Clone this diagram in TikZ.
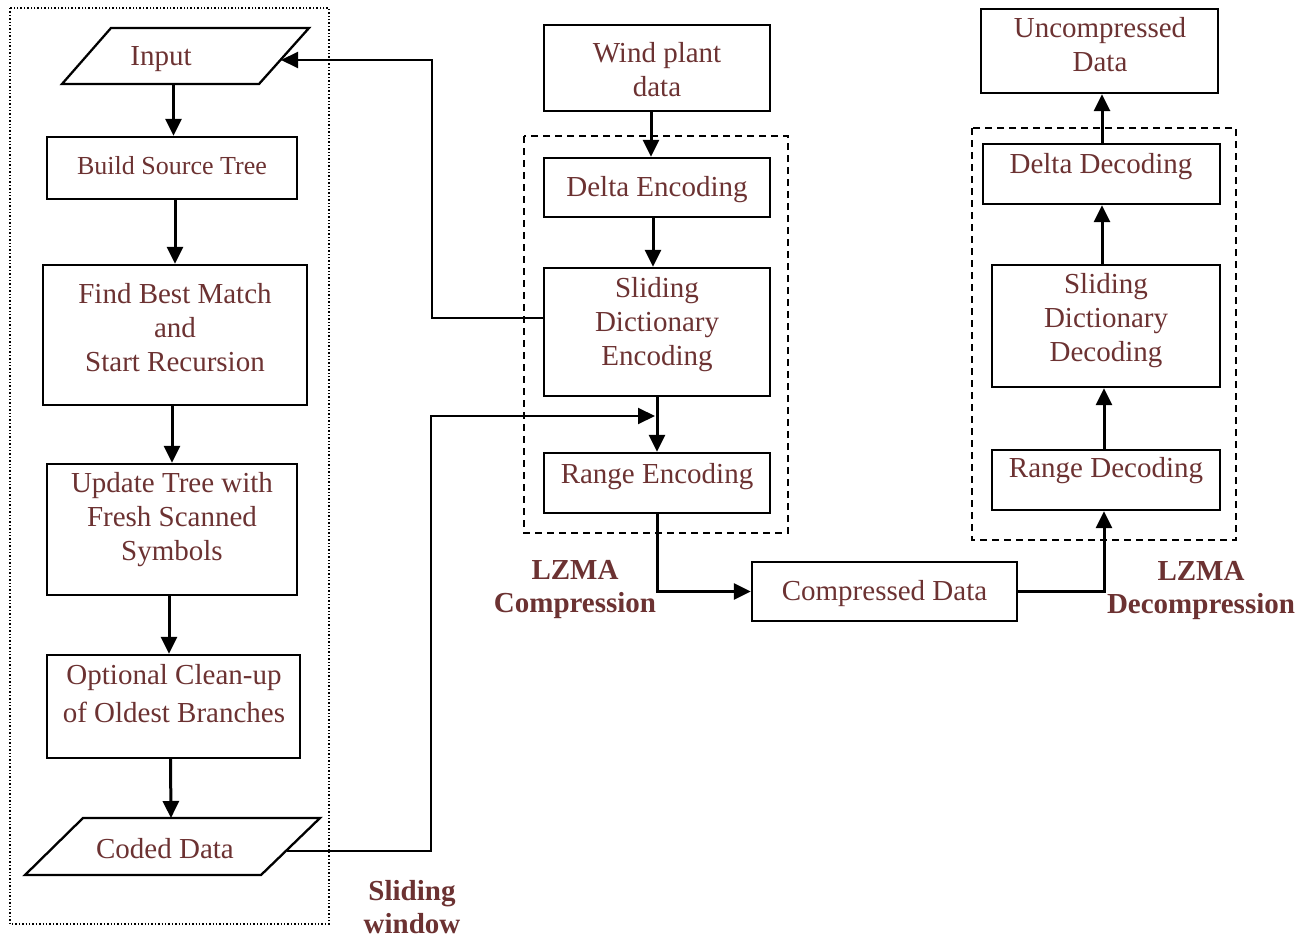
\documentclass[tikz,border=0pt]{standalone}
\usepackage{fontspec}
\setmainfont{Liberation Serif}
\usetikzlibrary{arrows.meta}
\definecolor{txtc}{RGB}{108,50,50}
\begin{document}
\begin{tikzpicture}[x=1pt,y=-1pt,
  box/.style={draw, line width=2.3pt, inner sep=0pt},
  tip/.style={-{Triangle[length=17pt,width=16pt]}},
  arr/.style={tip, line width=3pt},
  conn/.style={tip, line width=2pt},
  txt/.style={text=txtc, font=\fontsize{29}{34}\selectfont, align=center, inner sep=0pt},
  stxt/.style={text=txtc, font=\fontsize{26}{31}\selectfont, align=center, inner sep=0pt},
  btxt/.style={text=txtc, font=\fontsize{29}{33}\selectfont\bfseries, align=center, inner sep=0pt},
  grp/.style={dash pattern=on 7pt off 5pt, line width=2pt},
  win/.style={dotted, line width=1.4pt}]
\useasboundingbox (0,0) rectangle (1308,939);
% group frames
\draw[win] (10,8) rectangle (329,924);
\draw[grp] (524,136) rectangle (788,533);
\draw[grp] (972,128) rectangle (1236,540);
% left column
\draw[line width=2.3pt] (111,28) -- (309,28) -- (259,84) -- (62,84) -- cycle;
\node[txt] (inp) at (161,59) {Input};
\coordinate (inR) at (281,60);
\coordinate (inB) at (173.5,84);
\node[box, minimum width=250pt, minimum height=62pt] (bst) at (172,168) {};
\node[stxt] (bstt) at (172,166) {Build Source Tree};
\node[box, minimum width=264pt, minimum height=140pt] (fbm) at (175,335) {};
\node[txt] (fbmt) at (175,328) {Find Best Match\\and\\Start Recursion};
\node[box, minimum width=250pt, minimum height=131pt] (upd) at (172,529.5) {};
\node[txt] (updt) at (172,520) {Update Tree with\\Fresh Scanned\\Symbols};
\node[box, minimum width=253pt, minimum height=103pt] (opt) at (173.5,706.5) {};
\node[txt, font=\fontsize{29}{38}\selectfont] (optt) at (174,694) {Optional Clean-up\\of Oldest Branches};
\draw[line width=2.3pt] (83,818) -- (320,818) -- (261,875) -- (25,875) -- cycle;
\node[txt] (cod) at (165,849) {Coded Data};
\coordinate (cdT) at (171,818);
\coordinate (cdR) at (287,851);
% compression column
\node[box, minimum width=226pt, minimum height=86pt] (wpd) at (657,68) {};
\node[txt] (wpdt) at (657,70) {Wind plant\\data};
\node[box, minimum width=226pt, minimum height=59pt] (den) at (657,187.5) {};
\node[txt] (dent) at (657,190) {Delta Encoding};
\node[box, minimum width=226pt, minimum height=128pt] (sde) at (657,332) {};
\node[txt] (sdet) at (657,324.5) {Sliding\\Dictionary\\Encoding};
\node[box, minimum width=226pt, minimum height=60pt] (ren) at (657,483) {};
\node[txt] (rent) at (657,476.5) {Range Encoding};
\node[box, minimum width=265pt, minimum height=59pt] (cmp) at (884.5,591.5) {};
\node[txt] (cmpt) at (884.5,594) {Compressed Data};
% decompression column
\node[box, minimum width=228pt, minimum height=60pt] (rde) at (1106,480) {};
\node[txt] (rdet) at (1106,471) {Range Decoding};
\node[box, minimum width=228pt, minimum height=122pt] (sdd) at (1106,326) {};
\node[txt] (sddt) at (1106,320.5) {Sliding\\Dictionary\\Decoding};
\node[box, minimum width=237pt, minimum height=60pt] (ddc) at (1101.5,174) {};
\node[txt] (ddct) at (1101,167) {Delta Decoding};
\node[box, minimum width=237pt, minimum height=84pt] (unc) at (1099.5,51) {};
\node[txt] (unct) at (1100,45) {Uncompressed\\Data};
% labels
\node[btxt] (lzc) at (575,589.5) {LZMA\\Compression};
\node[btxt] (lzd) at (1201,590.5) {LZMA\\Decompression};
\node[btxt] (slw) at (412,907.5) {Sliding\\window};
% connectors
\draw[arr] (inB) -- (inB |- bst.north);
\draw[arr] (fbm.north |- bst.south) -- (fbm.north);
\draw[arr] (upd.north |- fbm.south) -- (upd.north);
\draw[arr] ([xshift=-3pt]upd.south) -- ([xshift=-3pt]upd.south |- opt.north);
\draw[arr] ([xshift=-3pt]opt.south) -- (cdT);
\draw[arr] ([xshift=-6pt]wpd.south) -- ([xshift=-6pt]den.north);
\draw[arr] ([xshift=-4pt]den.south) -- ([xshift=-4pt]sde.north);
\draw[arr] (sde.south) -- (ren.north);
\coordinate (mrg) at (655,416);
\draw[arr] (ren.south) |- (cmp.west);
\draw[arr] (cmp.east) -| ([xshift=-2pt]rde.south);
\draw[arr] ([xshift=-2pt]rde.north) -- ([xshift=-2pt]sdd.south);
\draw[arr] ([xshift=-4pt]sdd.north) -- ([xshift=-4pt]sdd.north |- ddc.south);
\draw[arr] ([xshift=0.5pt]ddc.north) -- ([xshift=0.5pt]ddc.north |- unc.south);
\draw[conn] ([yshift=14pt]sde.west) -- ++(-111,0) |- (inR);
\draw[conn] (cdR) -- (431,851) |- (mrg);
\end{tikzpicture}
\end{document}
